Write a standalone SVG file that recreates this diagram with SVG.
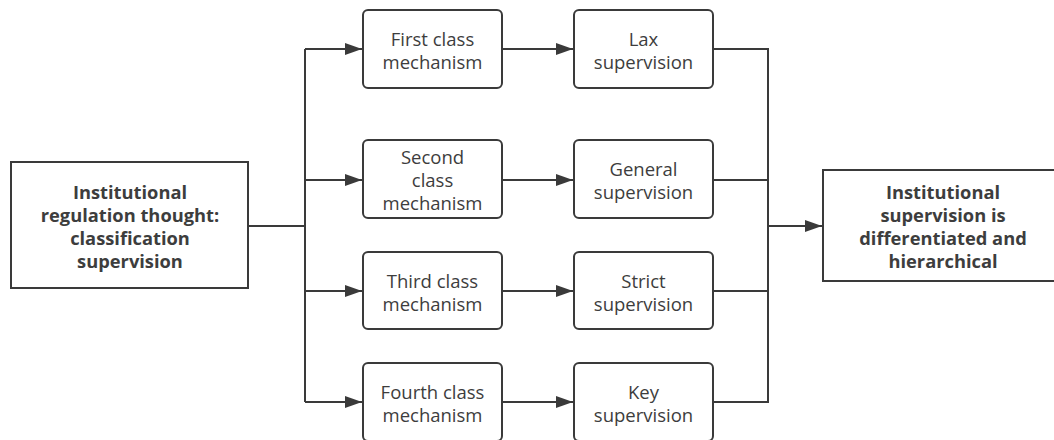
<svg xmlns="http://www.w3.org/2000/svg" width="1054" height="440" viewBox="0 0 1054 440">
<style>
.box{fill:#fff;stroke:#3a3a3a;stroke-width:2}
.t{font-family:"Open Sans","Noto Sans",sans-serif;font-size:18.5px;fill:#3d3d3d;text-anchor:middle;dominant-baseline:central}
.b{font-weight:bold;font-size:18.3px}
.c{fill:none;stroke:#3a3a3a;stroke-width:2}
</style>
<defs>
<marker id="ah" viewBox="0 0 17 12" refX="17" refY="6" markerWidth="17" markerHeight="12" markerUnits="userSpaceOnUse" orient="auto">
<path d="M0,0 L17,6 L0,12 Z" fill="#3a3a3a"/>
</marker>
</defs>
<g id="connectors">
<path class="c" d="M248,226 H305"/>
<path class="c" d="M305,49 V402"/>
<path class="c" d="M305,49 H362" marker-end="url(#ah)"/>
<path class="c" d="M305,180 H362" marker-end="url(#ah)"/>
<path class="c" d="M305,291 H362" marker-end="url(#ah)"/>
<path class="c" d="M305,402 H362" marker-end="url(#ah)"/>
<path class="c" d="M502,49 H573" marker-end="url(#ah)"/>
<path class="c" d="M502,180 H573" marker-end="url(#ah)"/>
<path class="c" d="M502,291 H573" marker-end="url(#ah)"/>
<path class="c" d="M502,402 H573" marker-end="url(#ah)"/>
<path class="c" d="M713,49 H768 V402 H713"/>
<path class="c" d="M713,180 H768"/>
<path class="c" d="M713,291 H768"/>
<path class="c" d="M768,226 H822" marker-end="url(#ah)"/>
</g>
<g id="source">
<rect class="box" x="11" y="162" width="237" height="126"/>
<text class="t b"><tspan x="130" y="191">Institutional</tspan><tspan x="130" y="214">regulation thought:</tspan><tspan x="130" y="237">classification</tspan><tspan x="130" y="260">supervision</tspan></text>
</g>
<g id="mech1">
<rect class="box" x="363" y="10" width="139" height="78" rx="5"/>
<text class="t"><tspan x="432.5" y="37.5">First class</tspan><tspan x="432.5" y="60.5">mechanism</tspan></text>
</g>
<g id="mech2">
<rect class="box" x="363" y="140" width="139" height="78" rx="5"/>
<text class="t"><tspan x="432.5" y="156">Second</tspan><tspan x="432.5" y="179">class</tspan><tspan x="432.5" y="202">mechanism</tspan></text>
</g>
<g id="mech3">
<rect class="box" x="363" y="252" width="139" height="77" rx="5"/>
<text class="t"><tspan x="432.5" y="279.5">Third class</tspan><tspan x="432.5" y="302.5">mechanism</tspan></text>
</g>
<g id="mech4">
<rect class="box" x="363" y="363" width="139" height="78" rx="5"/>
<text class="t"><tspan x="432.5" y="390.5">Fourth class</tspan><tspan x="432.5" y="413.5">mechanism</tspan></text>
</g>
<g id="sup1">
<rect class="box" x="574" y="10" width="139" height="78" rx="5"/>
<text class="t"><tspan x="643.5" y="37.5">Lax</tspan><tspan x="643.5" y="60.5">supervision</tspan></text>
</g>
<g id="sup2">
<rect class="box" x="574" y="140" width="139" height="78" rx="5"/>
<text class="t"><tspan x="643.5" y="167.5">General</tspan><tspan x="643.5" y="190.5">supervision</tspan></text>
</g>
<g id="sup3">
<rect class="box" x="574" y="252" width="139" height="77" rx="5"/>
<text class="t"><tspan x="643.5" y="279.5">Strict</tspan><tspan x="643.5" y="302.5">supervision</tspan></text>
</g>
<g id="sup4">
<rect class="box" x="574" y="363" width="139" height="78" rx="5"/>
<text class="t"><tspan x="643.5" y="390.5">Key</tspan><tspan x="643.5" y="413.5">supervision</tspan></text>
</g>
<g id="result">
<rect class="box" x="823" y="170" width="240" height="111"/>
<text class="t b"><tspan x="943" y="191">Institutional</tspan><tspan x="943" y="214">supervision is</tspan><tspan x="943" y="237">differentiated and</tspan><tspan x="943" y="260">hierarchical</tspan></text>
</g>
</svg>
